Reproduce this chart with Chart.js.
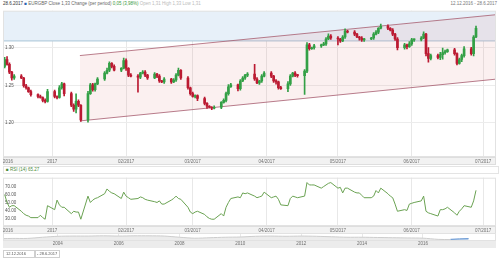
<!DOCTYPE html>
<html>
<head>
<meta charset="utf-8">
<script src="https://cdn.jsdelivr.net/npm/chart.js@4.4.0/dist/chart.umd.min.js"></script>
<style>
    html, body { margin: 0; padding: 0; background: #fff; }
    body { width: 500px; height: 258px; position: relative; overflow: hidden; font-family: "Liberation Sans", Arial, sans-serif; }
    canvas { position: absolute; left: 0; }
    #cabecalho { position: absolute; left: 3px; top: 1px; font-size: 4.5px; line-height: 5px; color: #666; white-space: nowrap; }
    #cabecalho .data { color: #333; }
    #cabecalho .icone { color: #2a64b0; }
    #cabecalho .alta { color: #3a9a3a; }
    #cabecalho .claro { color: #bbb; }
    #periodo { position: absolute; right: 3px; top: 1px; font-size: 4.5px; line-height: 5px; color: #777; white-space: nowrap; }
    #legenda-rsi { position: absolute; left: 3px; top: 166px; width: 492px; height: 6px; border: 1px solid #e4e4e4; font-size: 4.5px; line-height: 6px; color: #4b8b3b; padding-left: 2px; box-sizing: content-box; white-space: nowrap; }
    .caixa { position: absolute; top: 250px; height: 6px; border: 1px solid #cfcfcf; font-size: 4px; line-height: 6px; color: #555; padding: 0 2px; white-space: nowrap; overflow: hidden; }
</style>
</head>
<body>
<div id="cabecalho"><span class="data">28.6.2017</span> <span class="icone">&#9632;</span> EURGBP Close 1,33 Change (per period) <span class="alta">0,05 (3,98%)</span> <span class="claro">Open 1,31 High 1,33 Low 1,31</span></div>
<div id="periodo">12.12.2016 - 28.6.2017</div>
<canvas id="grafico-preco" width="500" height="159" style="top:6px"></canvas>
<div id="legenda-rsi">&#9632; RSI (14) 65.27</div>
<canvas id="grafico-rsi" width="500" height="61" style="top:173px"></canvas>
<canvas id="grafico-navegador" width="500" height="16" style="top:233px"></canvas>
<div class="caixa" style="left:3px;width:27px">12.12.2016</div>
<div class="caixa" style="left:34px;width:20px">- 28.6.2017</div>

<script>
const FONTE = "'Liberation Sans', Arial, sans-serif";

// dias de pregao contados a partir de 11.12.2016
const DATA_INICIAL = new Date(2016, 11, 11);
const marcasDias = [2.4, 21, 52, 80, 111, 141, 172, 202];
const marcasTextos = ["2016", "2017", "02/2017", "03/2017", "04/2017", "05/2017", "06/2017", "07/2017"];

const aberturaInicial = 1.2753;
const fechamentos = [
    1.2844, 1.2779, 1.2675, 1.2597, 1.2623,
    1.2597, 1.2494, 1.2468, 1.2416, 1.2377,
    1.2351, 1.2338, 1.2299, 1.2286, 1.2416,
    1.2351, 1.2338, 1.2468, 1.2519, 1.2390,
    1.2234, 1.2182, 1.2286, 1.2234, 1.2039,
    1.2390, 1.2506, 1.2442, 1.2519, 1.2584,
    1.2662, 1.2701, 1.2792, 1.2753, 1.2701,
    1.2727, 1.2831, 1.2727, 1.2636, 1.2623,
    1.2610, 1.2662, 1.2675, 1.2636, 1.2597,
    1.2649, 1.2623, 1.2558, 1.2545, 1.2584,
    1.2545, 1.2571, 1.2636, 1.2701, 1.2597,
    1.2468, 1.2390, 1.2351, 1.2364, 1.2325,
    1.2260, 1.2221, 1.2208, 1.2195, 1.2208,
    1.2273, 1.2299, 1.2390, 1.2481, 1.2506,
    1.2455, 1.2558, 1.2597, 1.2636, 1.2649,
    1.2584, 1.2532, 1.2558, 1.2623, 1.2662,
    1.2623, 1.2558, 1.2545, 1.2468, 1.2455,
    1.2519, 1.2623, 1.2662, 1.2636, 1.2630,
    1.2688, 1.3039, 1.2987, 1.3000, 1.3026,
    1.3039, 1.3052, 1.3117, 1.3156, 1.3130,
    1.3117, 1.3091, 1.3143, 1.3221, 1.3208,
    1.3182, 1.3143, 1.3130, 1.3104, 1.3117,
    1.3130, 1.3182, 1.3208, 1.3260, 1.3286,
    1.3260, 1.3234, 1.3182, 1.3117, 1.3000,
    1.3039, 1.3013, 1.3052, 1.3104, 1.3110,
    1.3130, 1.3182, 1.2922, 1.2857, 1.2896,
    1.2870, 1.2909, 1.2935, 1.2948, 1.2974,
    1.2922, 1.2792, 1.2844, 1.2896, 1.2987,
    1.2922, 1.3143, 1.3260
];

// pavios em milesimos acima e abaixo do corpo
const pavioCima = [
    3, 4, 2, 1, 2,  2, 1, 2, 1, 2,  1, 2, 1, 2, 3,  2, 1, 3, 2, 1,
    2, 2, 10, 2, 1,  3, 2, 2, 1, 2,  2, 3, 2, 1, 2,  1, 3, 2, 1, 2,
    2, 1, 2, 2, 1,  2, 1, 2, 1, 2,  1, 2, 2, 3, 1,  2, 1, 2, 1, 1,
    2, 1, 1, 1, 2,  1, 2, 2, 3, 2,  1, 2, 2, 1, 2,  13, 2, 1, 2, 2,
    2, 1, 2, 1, 2,  3, 2, 1, 2, 1,  2, 3, 2, 1, 2,  1, 2, 2, 3, 2,
    2, 1, 2, 3, 1,  2, 1, 1, 2, 1,  1, 2, 2, 1, 3,  2, 1, 2, 1, 2,
    2, 1, 3, 2, 1,  2, 3, 1, 8, 2,  2, 3, 6, 2, 1,  2, 1, 2, 2, 3,
    2, 2, 3
];
const pavioBaixo = [
    2, 1, 2, 3, 2,  1, 2, 2, 1, 2,  2, 1, 2, 2, 1,  2, 2, 1, 2, 3,
    2, 3, 5, 2, 2,  3, 1, 2, 2, 1,  2, 1, 2, 2, 1,  2, 1, 3, 2, 1,
    20, 2, 1, 2, 2,  1, 2, 2, 1, 2,  2, 1, 2, 1, 2,  2, 2, 1, 2, 3,
    2, 3, 1, 2, 1,  2, 1, 2, 2, 1,  3, 2, 1, 2, 2,  2, 1, 2, 2, 1,
    2, 2, 3, 2, 1,  4, 2, 1, 2, 2,  25, 2, 2, 1, 2,  2, 1, 2, 1, 2,
    8, 2, 1, 2, 1,  2, 1, 3, 2, 2,  1, 2, 1, 2, 1,  2, 1, 2, 2, 3,
    2, 3, 1, 2, 2,  2, 1, 3, 5, 2,  2, 3, 6, 2, 1,  2, 2, 1, 3, 2,
    2, 3, 1
];

const valoresRsi = [
    60, 50, 44, 46, 46,  39, 36, 34, 33, 31,  31, 34, 31, 29, 46,  41, 53, 47, 44, 44,
    36, 39, 38, 38, 29,  58, 50, 53, 55, 56,  61, 67, 64, 62, 61,  55, 63, 58, 56, 54,
    55, 57, 56, 54, 53,  51, 50, 52, 48, 48,  53, 55, 58, 55, 54,  44, 38, 36, 38, 39,
    35, 32, 30, 29, 29,  36, 33, 44, 50, 55,  57, 56, 62, 61, 62,  58, 56, 57, 58, 63,
    56, 57, 58, 54, 47,  46, 55, 58, 57, 56,  58, 75, 72, 72, 72,  68, 70, 72, 74, 75,
    68, 69, 62, 68, 68,  63, 62, 62, 59, 56,  56, 58, 65, 62, 68,  61, 58, 56, 48, 39,
    41, 40, 48, 49, 50,  52, 58, 39, 37, 36,  33, 41, 41, 42, 44,  37, 34, 39, 42, 46,
    44, 52, 65.27
];

const canalDias = [32.6, 207.4];
const canalTopo = [1.2896, 1.3440];
const canalBase = [1.2026, 1.2582];
const zonaAzul = 1.3091;
const precoMarcas = [1.20, 1.25, 1.30];
const rsiMarcas = [30, 40, 50, 60, 70];

const navAnos = [2002.2, 2002.5, 2003.0, 2003.5, 2004.0, 2004.5, 2005.0, 2005.5, 2006.0, 2006.5, 2007.0, 2007.5,
    2008.0, 2008.5, 2009.0, 2009.5, 2010.0, 2010.5, 2011.0, 2011.5, 2012.0, 2012.5, 2013.0, 2013.5,
    2014.0, 2014.5, 2015.0, 2015.5, 2016.0, 2016.5, 2016.9];
const navValores = [5, 5.5, 5.5, 8, 10, 10.5, 10.5, 11, 10.5, 11, 11, 10.5,
    8, 6, 7, 8, 8.5, 10, 10.5, 10, 10.5, 10, 9, 8,
    8, 7.5, 7, 6.5, 6, 3.5, 3];
const navSelAnos = [2016.9, 2017.2, 2017.5];
const navSelValores = [3.5, 4.5, 5];
const navMarcas = [2004, 2006, 2008, 2010, 2012, 2014, 2016];

const VERDE = "#33a046";
const VERMELHO = "#bb1a32";

function montarDiasPregao(qtd) {
    const dias = [];
    let d = 1;
    while (dias.length < qtd) {
        const dt = new Date(DATA_INICIAL.getFullYear(), DATA_INICIAL.getMonth(), DATA_INICIAL.getDate() + d);
        if (dt.getDay() !== 0 && dt.getDay() !== 6) dias.push(d);
        d++;
    }
    return dias;
}

const faixas = {
    id: "faixas",
    beforeDraw(chart) {
        const { ctx, chartArea: a, scales } = chart;
        const x = scales.x;
        const estilo = chart.options.faixaEixo;
        if (!estilo) return;
        ctx.save();
        ctx.fillStyle = estilo.fundo;
        ctx.fillRect(a.left, x.top, a.right - a.left, x.bottom - x.top);
        if (estilo.borda) {
            ctx.strokeStyle = estilo.borda;
            ctx.lineWidth = 1;
            ctx.strokeRect(a.left + 0.5, x.top + 0.5, a.right - a.left - 1, x.bottom - x.top - 1);
        }
        ctx.restore();
    },
    afterDraw(chart) {
        const { ctx, chartArea: a } = chart;
        ctx.save();
        ctx.strokeStyle = "#e2e2e2";
        ctx.lineWidth = 1;
        ctx.strokeRect(a.left + 0.5, a.top + 0.5, a.right - a.left - 1, a.bottom - a.top - 1);
        ctx.restore();
    }
};

function eixoX(min, max, marcas, textos, alturaFaixa, espaco) {
    return {
        type: "linear",
        min: min,
        max: max,
        offset: false,
        afterBuildTicks: s => { s.ticks = marcas.map(v => ({ value: v })); },
        afterFit: s => { s.height = alturaFaixa; },
        ticks: {
            autoSkip: false,
            maxRotation: 0,
            padding: espaco,
            color: "#707070",
            font: { size: 4.5, family: FONTE },
            callback: (v, i) => textos[i]
        },
        grid: {
            drawTicks: false,
            offset: false,
            color: c => (textos === marcasTextos && c.index === 0) ? "rgba(0,0,0,0)" : "#e8e8e8"
        },
        border: { display: false }
    };
}

function eixoY(min, max, marcas, casas, grade) {
    return {
        min: min,
        max: max,
        afterBuildTicks: s => { s.ticks = marcas.map(v => ({ value: v })); },
        afterFit: s => { s.width = 0; },
        ticks: {
            mirror: true,
            padding: 2,
            color: "#555",
            font: { size: 4.5, family: FONTE },
            callback: v => v.toFixed(casas)
        },
        grid: { drawTicks: false, color: grade },
        border: { display: false }
    };
}

function renderizarPreco(dias) {
    const aberturas = fechamentos.map((c, i) => i === 0 ? aberturaInicial : fechamentos[i - 1]);
    const cores = fechamentos.map((c, i) => c >= aberturas[i] ? VERDE : VERMELHO);
    const corpos = fechamentos.map((c, i) => ({ x: dias[i], y: [aberturas[i], c] }));
    const pavios = fechamentos.map((c, i) => ({
        x: dias[i],
        y: [Math.min(c, aberturas[i]) - pavioBaixo[i] / 1000, Math.max(c, aberturas[i]) + pavioCima[i] / 1000]
    }));

    new Chart(document.getElementById("grafico-preco"), {
        type: "bar",
        data: {
            datasets: [
                {
                    type: "line",
                    data: [{ x: 0.3, y: zonaAzul }, { x: 207.4, y: zonaAzul }],
                    borderColor: "#a9c5d6",
                    borderWidth: 1,
                    backgroundColor: "#e7f0f9",
                    fill: "end",
                    pointRadius: 0,
                    order: 5
                },
                {
                    type: "line",
                    data: canalDias.map((d, i) => ({ x: d, y: canalTopo[i] })),
                    borderColor: "rgba(160, 82, 102, 0.75)",
                    borderWidth: 1,
                    pointRadius: 0,
                    fill: false,
                    order: 4
                },
                {
                    type: "line",
                    data: canalDias.map((d, i) => ({ x: d, y: canalBase[i] })),
                    borderColor: "rgba(160, 82, 102, 0.75)",
                    borderWidth: 1,
                    backgroundColor: "rgba(222, 130, 130, 0.12)",
                    pointRadius: 0,
                    fill: "-1",
                    order: 3
                },
                {
                    data: pavios,
                    backgroundColor: cores,
                    barThickness: 1,
                    grouped: false,
                    order: 2
                },
                {
                    data: corpos,
                    backgroundColor: cores,
                    barThickness: 2,
                    minBarLength: 1,
                    grouped: false,
                    order: 1
                }
            ]
        },
        options: {
            responsive: false,
            devicePixelRatio: 1,
            animation: false,
            events: [],
            faixaEixo: { fundo: "#f2f2f2", borda: "#dedede" },
            layout: { padding: { left: 3, right: 4, top: 1, bottom: 0 } },
            plugins: { legend: { display: false }, tooltip: { enabled: false } },
            scales: {
                x: eixoX(0.3, 207.4, marcasDias, marcasTextos, 8, 2),
                y: eixoY(1.15455, 1.34935, precoMarcas, 2, "#ececec")
            }
        },
        plugins: [faixas]
    });
}

function renderizarRsi(dias) {
    new Chart(document.getElementById("grafico-rsi"), {
        type: "line",
        data: {
            datasets: [{
                data: valoresRsi.map((v, i) => ({ x: dias[i], y: v })),
                borderColor: "#6aa252",
                borderWidth: 1,
                pointRadius: 0,
                tension: 0,
                fill: false
            }]
        },
        options: {
            responsive: false,
            devicePixelRatio: 1,
            animation: false,
            events: [],
            faixaEixo: { fundo: "#f2f2f2", borda: "#dedede" },
            layout: { padding: { left: 3, right: 4, top: 0, bottom: 0 } },
            plugins: { legend: { display: false }, tooltip: { enabled: false } },
            scales: {
                x: eixoX(0.3, 207.4, marcasDias, marcasTextos, 8, 2),
                y: eixoY(20.5, 81.1, rsiMarcas, 2, "rgba(0,0,0,0)")
            }
        },
        plugins: [faixas]
    });
}

function renderizarNavegador() {
    new Chart(document.getElementById("grafico-navegador"), {
        type: "line",
        data: {
            datasets: [
                {
                    data: navAnos.map((a, i) => ({ x: a, y: navValores[i] })),
                    borderColor: "#cdcdcd",
                    borderWidth: 1,
                    backgroundColor: "#ececec",
                    fill: "origin",
                    pointRadius: 0,
                    tension: 0.3
                },
                {
                    data: navSelAnos.map((a, i) => ({ x: a, y: navSelValores[i] })),
                    borderColor: "#5b8fcf",
                    borderWidth: 1,
                    backgroundColor: "#c5d8ef",
                    fill: "origin",
                    pointRadius: 0
                }
            ]
        },
        options: {
            responsive: false,
            devicePixelRatio: 1,
            animation: false,
            events: [],
            faixaEixo: { fundo: "#ececec", borda: null },
            layout: { padding: { left: 3, right: 4, top: 0, bottom: 1 } },
            plugins: { legend: { display: false }, tooltip: { enabled: false } },
            scales: {
                x: eixoX(2002.2, 2018.4, navMarcas, navMarcas.map(String), 7, 0.5),
                y: {
                    min: 0,
                    max: 17,
                    display: false
                }
            }
        },
        plugins: [faixas]
    });
}

const diasPregao = montarDiasPregao(fechamentos.length);
renderizarPreco(diasPregao);
renderizarRsi(diasPregao);
renderizarNavegador();
</script>
</body>
</html>
